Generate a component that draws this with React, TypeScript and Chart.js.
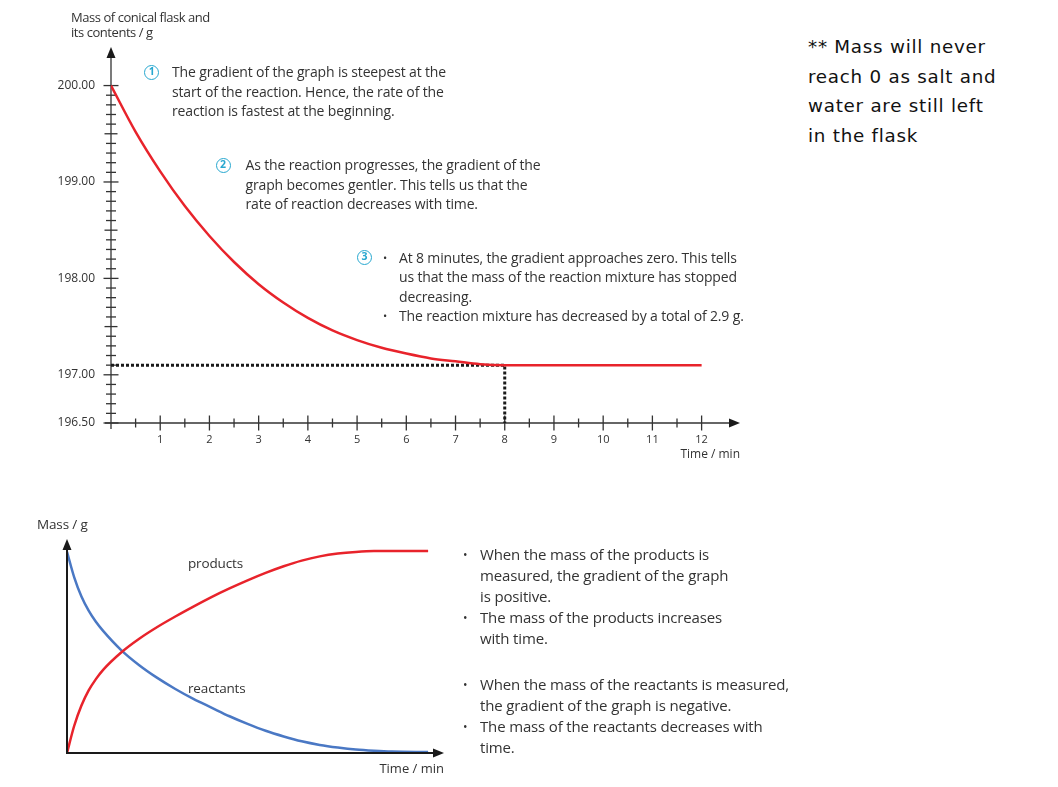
import React, { useEffect, useRef } from 'react';
import { Chart, registerables } from 'chart.js';

Chart.register(...registerables);

// ---- top graph: mass of conical flask vs time ----
const flaskTimes = [0, 0.5, 1, 1.5, 2, 2.5, 3, 3.5, 4, 4.5, 5, 5.5, 6, 6.5, 7, 7.5, 8, 9, 10, 11, 12];
const flaskMass = [200.0, 199.52, 199.11, 198.75, 198.44, 198.17, 197.94, 197.75, 197.59, 197.46, 197.36, 197.28, 197.22, 197.17, 197.14, 197.11, 197.1, 197.1, 197.1, 197.1, 197.1];
const guideTimes = [0, 8, 8];
const guideMass = [197.1, 197.1, 196.5];
const massTickLabels = [196.5, 197, 198, 199, 200];
const timeTickLabels = [1, 2, 3, 4, 5, 6, 7, 8, 9, 10, 11, 12];

// ---- bottom sketch: products / reactants ----
const sketchTimes = [0, 0.2, 0.4, 0.6, 0.8, 1, 1.5, 2, 2.5, 3, 3.5, 4, 4.5, 5, 5.5, 6, 6.5, 7, 7.5, 8, 8.5, 9, 10];
const productMass = [0, 1.35, 2.35, 3.1, 3.66, 4.12, 4.98, 5.66, 6.24, 6.76, 7.25, 7.72, 8.15, 8.55, 8.92, 9.25, 9.53, 9.74, 9.88, 9.96, 10.0, 10.0, 10.0];
const reactantMass = [9.97, 8.7, 7.75, 7.05, 6.5, 6.05, 5.1, 4.35, 3.72, 3.17, 2.68, 2.25, 1.82, 1.44, 1.1, 0.82, 0.58, 0.4, 0.27, 0.17, 0.11, 0.07, 0.05];

const RED = '#e8232b';
const BLUE = '#4a78c4';
const CYAN = '#27a7cf';
const INK = '#333';
const FONT = '"Open Sans", sans-serif';

const isLabel = (list: number[], v: number) => list.some(m => Math.abs(m - v) < 1e-6);

function drawArrows(ctx: CanvasRenderingContext2D, a: any) {
  ctx.fillStyle = '#1a1a1a';
  ctx.beginPath();
  ctx.moveTo(a.left, a.top);
  ctx.lineTo(a.left - 4.5, a.top + 11);
  ctx.lineTo(a.left + 4.5, a.top + 11);
  ctx.closePath();
  ctx.fill();
  ctx.beginPath();
  ctx.moveTo(a.right, a.bottom);
  ctx.lineTo(a.right - 11, a.bottom - 4.5);
  ctx.lineTo(a.right - 11, a.bottom + 4.5);
  ctx.closePath();
  ctx.fill();
}

const flaskAxes = {
  id: 'flaskAxes',
  beforeDatasetsDraw(chart: any) {
    const { ctx, chartArea: a, scales: { x, y } } = chart;
    ctx.save();
    ctx.strokeStyle = '#333';
    ctx.lineWidth = 1.3;
    const seg = (x1: number, y1: number, x2: number, y2: number) => {
      ctx.beginPath();
      ctx.moveTo(x1, y1);
      ctx.lineTo(x2, y2);
      ctx.stroke();
    };
    seg(a.left, a.bottom + 6, a.left, a.top + 8);
    seg(a.left - 6, a.bottom, a.right - 8, a.bottom);
    y.ticks.forEach((t: any) => {
      const py = y.getPixelForValue(t.value);
      const half = Math.abs(t.value * 2 - Math.round(t.value * 2)) < 1e-6;
      const len = isLabel(massTickLabels, t.value) ? 7.5 : half ? 6.5 : 5;
      seg(a.left - len, py, a.left + len, py);
    });
    x.ticks.forEach((t: any) => {
      const px = x.getPixelForValue(t.value);
      const len = Number.isInteger(t.value) ? 7.5 : 4.5;
      seg(px, a.bottom - len, px, a.bottom + len);
    });
    drawArrows(ctx, a);
    ctx.restore();
  },
};

const sketchAxes = {
  id: 'sketchAxes',
  afterDatasetsDraw(chart: any) {
    const { ctx, chartArea: a } = chart;
    ctx.save();
    ctx.strokeStyle = '#1a1a1a';
    ctx.lineWidth = 2;
    ctx.beginPath();
    ctx.moveTo(a.left, a.top + 8);
    ctx.lineTo(a.left, a.bottom);
    ctx.lineTo(a.right - 8, a.bottom);
    ctx.stroke();
    drawArrows(ctx, a);
    ctx.restore();
  },
};

type Block = { left: number; top: number; lh: number; size: number; lines: string[]; bullets?: number[]; bulletX?: number; spacing?: number; color?: string; family?: string };

const TextBlock: React.FC<Block> = ({ left, top, lh, size, lines, bullets = [], bulletX = -13, spacing = -0.15, color = INK, family = FONT }) => (
  <div style={{ position: 'absolute', left, top, fontFamily: family, fontSize: size, lineHeight: `${lh}px`, letterSpacing: spacing, color, whiteSpace: 'nowrap' }}>
    {lines.map((l, i) => (
      <div key={i} style={{ position: 'relative', height: lh }}>
        {bullets.includes(i) && <span style={{ position: 'absolute', left: bulletX - 3, fontSize: size * 0.8 }}>•</span>}
        {l}
      </div>
    ))}
  </div>
);

const Badge: React.FC<{ cx: number; cy: number; n: number }> = ({ cx, cy, n }) => (
  <div style={{ position: 'absolute', left: cx - 7.5, top: cy - 7.5, width: 15, height: 15, boxSizing: 'border-box', border: `1.9px solid ${CYAN}`, borderRadius: '50%', color: CYAN, fontFamily: FONT, fontSize: 10.5, fontWeight: 700, lineHeight: '11.5px', textAlign: 'center' }}>{n}</div>
);

const App: React.FC = () => {
  const flaskRef = useRef<HTMLCanvasElement>(null);
  const sketchRef = useRef<HTMLCanvasElement>(null);

  useEffect(() => {
    const charts: Chart[] = [];

    if (flaskRef.current) {
      charts.push(new Chart(flaskRef.current, {
        type: 'line',
        data: {
          datasets: [
            {
              data: flaskTimes.map((t, i) => ({ x: t, y: flaskMass[i] })),
              borderColor: RED,
              borderWidth: 2.5,
              pointRadius: 0,
              cubicInterpolationMode: 'monotone',
            },
            {
              data: guideTimes.map((t, i) => ({ x: t, y: guideMass[i] })),
              borderColor: '#1a1a1a',
              borderWidth: 3,
              borderDash: [3, 2],
              pointRadius: 0,
              tension: 0,
            },
          ],
        },
        options: {
          animation: false,
          responsive: false,
          layout: { padding: { top: 47, right: 20, left: 0, bottom: 0 } },
          plugins: { legend: { display: false }, tooltip: { enabled: false } },
          scales: {
            x: {
              type: 'linear',
              min: 0,
              max: 12.78,
              grid: { display: false, drawTicks: false },
              border: { display: false },
              afterBuildTicks: (s: any) => {
                const ticks = [];
                for (let k = 1; k <= 24; k++) ticks.push({ value: k / 2 });
                s.ticks = ticks;
              },
              ticks: {
                autoSkip: false,
                maxRotation: 0,
                padding: 10,
                color: INK,
                font: { family: FONT, size: 11 },
                callback: (v: any) => (isLabel(timeTickLabels, Number(v)) ? String(v) : ''),
              },
              title: { display: true, text: 'Time / min', align: 'end', color: INK, font: { family: FONT, size: 12 }, padding: { top: 0, bottom: 8 } },
              afterFit: (s: any) => { s.height = 47; },
            },
            y: {
              type: 'linear',
              min: 196.5,
              max: 200.4,
              grid: { display: false, drawTicks: false },
              border: { display: false },
              afterBuildTicks: (s: any) => {
                const ticks = [];
                for (let k = 0; k <= 35; k++) ticks.push({ value: Math.round((196.5 + k * 0.1) * 10) / 10 });
                s.ticks = ticks;
              },
              ticks: {
                autoSkip: false,
                padding: 16,
                color: INK,
                font: { family: FONT, size: 12 },
                callback: (v: any) => (isLabel(massTickLabels, Number(v)) ? Number(v).toFixed(2) : ''),
              },
              afterFit: (s: any) => { s.width = 111; },
            },
          },
        },
        plugins: [flaskAxes],
      } as any));
    }

    if (sketchRef.current) {
      charts.push(new Chart(sketchRef.current, {
        type: 'line',
        data: {
          datasets: [
            {
              data: sketchTimes.map((t, i) => ({ x: t, y: productMass[i] })),
              borderColor: RED,
              borderWidth: 2.5,
              pointRadius: 0,
              cubicInterpolationMode: 'monotone',
            },
            {
              data: sketchTimes.map((t, i) => ({ x: t, y: reactantMass[i] })),
              borderColor: BLUE,
              borderWidth: 2.5,
              pointRadius: 0,
              cubicInterpolationMode: 'monotone',
            },
          ],
        },
        options: {
          animation: false,
          responsive: false,
          layout: { padding: { top: 39, right: 26, left: 67, bottom: 0 } },
          plugins: { legend: { display: false }, tooltip: { enabled: false } },
          scales: {
            x: {
              type: 'linear',
              min: 0,
              max: 10.44,
              grid: { display: false },
              border: { display: false },
              ticks: { display: false },
              title: { display: true, text: 'Time / min', align: 'end', color: INK, font: { family: FONT, size: 13 }, padding: { top: 0, bottom: 10 } },
              afterFit: (s: any) => { s.height = 34; },
            },
            y: { type: 'linear', display: false, min: 0, max: 10.6 },
          },
        },
        plugins: [sketchAxes],
      } as any));
    }

    return () => {
      charts.forEach(c => c.destroy());
    };
  }, []);

  return (
    <div style={{ position: 'absolute', left: 0, top: 0, width: 1058, height: 787, background: '#fff', overflow: 'hidden' }}>
      <canvas ref={flaskRef} width={760} height={470} style={{ position: 'absolute', left: 0, top: 0, width: 760, height: 470 }} />
      <canvas ref={sketchRef} width={470} height={287} style={{ position: 'absolute', left: 0, top: 500, width: 470, height: 287 }} />

      <TextBlock left={71} top={9.5} lh={15} size={13} spacing={-0.45} lines={['Mass of conical flask and', 'its contents / g']} />

      <Badge cx={151.7} cy={72} n={1} />
      <TextBlock left={172} top={62.3} lh={19.5} size={14} lines={['The gradient of the graph is steepest at the', 'start of the reaction. Hence, the rate of the', 'reaction is fastest at the beginning.']} />

      <Badge cx={223} cy={165} n={2} />
      <TextBlock left={245.5} top={155.3} lh={19.5} size={14} lines={['As the reaction progresses, the gradient of the', 'graph becomes gentler. This tells us that the', 'rate of reaction decreases with time.']} />

      <Badge cx={364.5} cy={257.3} n={3} />
      <TextBlock left={399} top={247.5} lh={19.5} size={14} bullets={[0, 3]} lines={['At 8 minutes, the gradient approaches zero. This tells', 'us that the mass of the reaction mixture has stopped', 'decreasing.', 'The reaction mixture has decreased by a total of 2.9 g.']} />

      <TextBlock left={808} top={32} lh={29.7} size={18.3} spacing={0.75} color="#111" family={'"DejaVu Sans", sans-serif'} lines={['** Mass will never', 'reach 0 as salt and', 'water are still left', 'in the flask']} />

      <TextBlock left={37} top={515} lh={18} size={13.5} lines={['Mass / g']} />
      <TextBlock left={188} top={554} lh={18} size={13.5} lines={['products']} />
      <TextBlock left={188} top={679} lh={18} size={13.5} lines={['reactants']} />

      <TextBlock left={480} top={543.5} lh={21.2} size={15} bullets={[0, 3]} bulletX={-14} lines={['When the mass of the products is', 'measured, the gradient of the graph', 'is positive.', 'The mass of the products increases', 'with time.']} />
      <TextBlock left={480} top={673.5} lh={21.2} size={15} bullets={[0, 2]} bulletX={-14} lines={['When the mass of the reactants is measured,', 'the gradient of the graph is negative.', 'The mass of the reactants decreases with', 'time.']} />
    </div>
  );
};

export default App;
